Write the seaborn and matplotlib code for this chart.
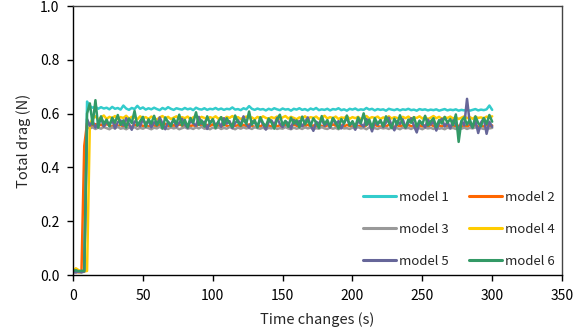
import numpy as np
import pandas as pd
import matplotlib
matplotlib.use("Agg")
import matplotlib.pyplot as plt
import seaborn as sns

# sampled every 2 s, t = 0 .. 300
model_1 = [0.010, 0.015, 0.012, 0.010, 0.014, 0.645, 0.628, 0.622, 0.626, 0.618,
 0.624, 0.619, 0.622, 0.616, 0.625, 0.618, 0.621, 0.615, 0.630, 0.619,
 0.614, 0.621, 0.617, 0.629, 0.618, 0.623, 0.615, 0.620, 0.616, 0.622,
 0.617, 0.613, 0.621, 0.616, 0.624, 0.618, 0.614, 0.620, 0.617, 0.615,
 0.621, 0.616, 0.619, 0.613, 0.622, 0.617, 0.615, 0.620, 0.614, 0.618,
 0.616, 0.621, 0.615, 0.619, 0.614, 0.618, 0.616, 0.623, 0.615, 0.617,
 0.613, 0.620, 0.616, 0.628, 0.618, 0.614, 0.619, 0.615, 0.617, 0.612,
 0.618, 0.614, 0.620, 0.616, 0.613, 0.619, 0.615, 0.617, 0.611, 0.618,
 0.615, 0.620, 0.614, 0.617, 0.612, 0.619, 0.615, 0.621, 0.613, 0.616,
 0.614, 0.618, 0.612, 0.617, 0.615, 0.620, 0.613, 0.616, 0.611, 0.618,
 0.615, 0.619, 0.613, 0.616, 0.614, 0.621, 0.615, 0.618, 0.612, 0.617,
 0.614, 0.616, 0.611, 0.618, 0.615, 0.613, 0.617, 0.612, 0.616, 0.614,
 0.618, 0.613, 0.615, 0.611, 0.617, 0.614, 0.616, 0.612, 0.615, 0.613,
 0.616, 0.611, 0.614, 0.617, 0.612, 0.615, 0.613, 0.616, 0.611, 0.614,
 0.612, 0.615, 0.611, 0.614, 0.617, 0.612, 0.615, 0.613, 0.616, 0.630, 0.614]

model_2 = [0.010, 0.012, 0.010, 0.011, 0.480, 0.565, 0.558, 0.552, 0.561, 0.555,
 0.559, 0.553, 0.562, 0.556, 0.551, 0.560, 0.554, 0.558, 0.552, 0.563,
 0.556, 0.550, 0.559, 0.555, 0.561, 0.553, 0.557, 0.551, 0.560, 0.556,
 0.552, 0.558, 0.554, 0.562, 0.555, 0.550, 0.557, 0.553, 0.560, 0.556,
 0.551, 0.559, 0.554, 0.557, 0.552, 0.561, 0.555, 0.550, 0.558, 0.554,
 0.560, 0.553, 0.556, 0.551, 0.559, 0.555, 0.552, 0.562, 0.554, 0.557,
 0.551, 0.558, 0.553, 0.560, 0.555, 0.550, 0.557, 0.552, 0.559, 0.554,
 0.556, 0.551, 0.561, 0.553, 0.557, 0.550, 0.558, 0.554, 0.552, 0.560,
 0.555, 0.551, 0.557, 0.553, 0.559, 0.552, 0.556, 0.550, 0.558, 0.554,
 0.551, 0.557, 0.553, 0.560, 0.555, 0.550, 0.556, 0.552, 0.558, 0.554,
 0.551, 0.559, 0.553, 0.556, 0.550, 0.557, 0.565, 0.552, 0.558, 0.554,
 0.551, 0.556, 0.552, 0.559, 0.554, 0.550, 0.557, 0.553, 0.556, 0.551,
 0.558, 0.553, 0.555, 0.550, 0.557, 0.552, 0.556, 0.551, 0.559, 0.554,
 0.550, 0.556, 0.552, 0.558, 0.553, 0.551, 0.557, 0.552, 0.555, 0.550,
 0.556, 0.552, 0.558, 0.553, 0.557, 0.551, 0.555, 0.552, 0.558, 0.554, 0.556]

model_3 = [0.012, 0.010, 0.013, 0.011, 0.012, 0.550, 0.545, 0.549, 0.543, 0.548,
 0.544, 0.550, 0.546, 0.542, 0.549, 0.545, 0.551, 0.544, 0.547, 0.542,
 0.548, 0.545, 0.550, 0.543, 0.547, 0.544, 0.549, 0.546, 0.542, 0.548,
 0.545, 0.551, 0.544, 0.547, 0.543, 0.549, 0.545, 0.548, 0.542, 0.546,
 0.550, 0.544, 0.547, 0.543, 0.549, 0.545, 0.551, 0.544, 0.546, 0.542,
 0.548, 0.545, 0.549, 0.543, 0.547, 0.544, 0.550, 0.546, 0.542, 0.548,
 0.544, 0.549, 0.545, 0.547, 0.543, 0.550, 0.546, 0.544, 0.548, 0.542,
 0.547, 0.545, 0.549, 0.543, 0.546, 0.544, 0.550, 0.545, 0.542, 0.548,
 0.544, 0.547, 0.543, 0.549, 0.545, 0.548, 0.542, 0.546, 0.544, 0.550,
 0.545, 0.543, 0.548, 0.544, 0.547, 0.542, 0.549, 0.545, 0.546, 0.543,
 0.548, 0.544, 0.550, 0.545, 0.547, 0.542, 0.549, 0.544, 0.546, 0.543,
 0.548, 0.545, 0.547, 0.543, 0.549, 0.544, 0.546, 0.542, 0.548, 0.545,
 0.547, 0.543, 0.549, 0.544, 0.546, 0.542, 0.548, 0.545, 0.547, 0.543,
 0.549, 0.544, 0.546, 0.542, 0.548, 0.545, 0.547, 0.543, 0.546, 0.544,
 0.548, 0.543, 0.547, 0.545, 0.549, 0.544, 0.546, 0.543, 0.548, 0.545, 0.547]

model_4 = [0.015, 0.025, 0.018, 0.012, 0.014, 0.015, 0.560, 0.582, 0.590, 0.578,
 0.586, 0.593, 0.580, 0.588, 0.583, 0.591, 0.579, 0.587, 0.584, 0.592,
 0.581, 0.588, 0.585, 0.579, 0.590, 0.583, 0.587, 0.580, 0.589, 0.584,
 0.578, 0.586, 0.591, 0.582, 0.588, 0.580, 0.585, 0.590, 0.581, 0.587,
 0.583, 0.589, 0.579, 0.586, 0.592, 0.582, 0.588, 0.584, 0.580, 0.587,
 0.583, 0.590, 0.581, 0.586, 0.579, 0.588, 0.584, 0.591, 0.582, 0.587,
 0.580, 0.585, 0.589, 0.583, 0.586, 0.579, 0.588, 0.582, 0.590, 0.584,
 0.581, 0.587, 0.583, 0.589, 0.580, 0.586, 0.591, 0.582, 0.588, 0.584,
 0.579, 0.586, 0.583, 0.590, 0.581, 0.587, 0.584, 0.589, 0.580, 0.585,
 0.592, 0.582, 0.587, 0.583, 0.589, 0.580, 0.586, 0.584, 0.590, 0.581,
 0.587, 0.583, 0.588, 0.579, 0.585, 0.591, 0.582, 0.587, 0.584, 0.589,
 0.580, 0.586, 0.583, 0.590, 0.582, 0.587, 0.584, 0.579, 0.588, 0.583,
 0.589, 0.581, 0.586, 0.584, 0.590, 0.582, 0.587, 0.580, 0.585, 0.591,
 0.583, 0.588, 0.581, 0.586, 0.584, 0.589, 0.582, 0.587, 0.580, 0.585,
 0.590, 0.583, 0.587, 0.581, 0.588, 0.584, 0.586, 0.582, 0.589, 0.585, 0.590]

model_5 = [0.012, 0.010, 0.014, 0.011, 0.013, 0.580, 0.555, 0.572, 0.548, 0.566,
 0.585, 0.552, 0.570, 0.560, 0.578, 0.545, 0.568, 0.575, 0.556, 0.583,
 0.562, 0.540, 0.571, 0.566, 0.553, 0.580, 0.561, 0.574, 0.549, 0.568,
 0.557, 0.586, 0.563, 0.542, 0.570, 0.559, 0.577, 0.552, 0.566, 0.581,
 0.560, 0.547, 0.573, 0.564, 0.555, 0.588, 0.562, 0.570, 0.543, 0.567,
 0.578, 0.556, 0.569, 0.551, 0.583, 0.563, 0.572, 0.546, 0.565, 0.576,
 0.558, 0.590, 0.561, 0.548, 0.572, 0.566, 0.554, 0.579, 0.560, 0.541,
 0.569, 0.575, 0.557, 0.584, 0.562, 0.550, 0.571, 0.565, 0.544, 0.577,
 0.560, 0.573, 0.553, 0.568, 0.586, 0.558, 0.536, 0.570, 0.563, 0.579,
 0.555, 0.567, 0.548, 0.581, 0.561, 0.572, 0.545, 0.566, 0.584, 0.557,
 0.569, 0.540, 0.574, 0.562, 0.552, 0.580, 0.564, 0.534, 0.571, 0.558,
 0.576, 0.550, 0.567, 0.585, 0.556, 0.538, 0.573, 0.561, 0.579, 0.547,
 0.566, 0.583, 0.555, 0.530, 0.570, 0.562, 0.549, 0.578, 0.559, 0.572,
 0.537, 0.566, 0.581, 0.552, 0.569, 0.545, 0.575, 0.560, 0.540, 0.571,
 0.556, 0.655, 0.563, 0.548, 0.576, 0.528, 0.567, 0.582, 0.525, 0.570, 0.551]

model_6 = [0.015, 0.018, 0.014, 0.016, 0.015, 0.600, 0.638, 0.560, 0.650, 0.548,
 0.590, 0.562, 0.578, 0.552, 0.585, 0.566, 0.595, 0.558, 0.575, 0.548,
 0.582, 0.565, 0.610, 0.555, 0.572, 0.588, 0.551, 0.579, 0.563, 0.592,
 0.557, 0.574, 0.545, 0.586, 0.568, 0.553, 0.581, 0.562, 0.596, 0.556,
 0.577, 0.549, 0.584, 0.566, 0.605, 0.558, 0.575, 0.552, 0.590, 0.563,
 0.579, 0.546, 0.571, 0.587, 0.557, 0.583, 0.564, 0.550, 0.593, 0.568,
 0.555, 0.580, 0.562, 0.608, 0.559, 0.576, 0.548, 0.587, 0.565, 0.553,
 0.582, 0.567, 0.544, 0.578, 0.596, 0.558, 0.573, 0.551, 0.585, 0.563,
 0.575, 0.549, 0.589, 0.560, 0.577, 0.554, 0.583, 0.566, 0.547, 0.591,
 0.561, 0.576, 0.552, 0.584, 0.568, 0.545, 0.580, 0.563, 0.593, 0.556,
 0.572, 0.550, 0.586, 0.565, 0.601, 0.557, 0.578, 0.548, 0.583, 0.562,
 0.575, 0.553, 0.590, 0.567, 0.546, 0.581, 0.559, 0.594, 0.563, 0.549,
 0.578, 0.566, 0.587, 0.552, 0.574, 0.560, 0.592, 0.556, 0.571, 0.583,
 0.550, 0.576, 0.563, 0.588, 0.566, 0.580, 0.557, 0.597, 0.495, 0.573,
 0.586, 0.559, 0.578, 0.548, 0.590, 0.565, 0.553, 0.584, 0.562, 0.595, 0.570]

labels = ["model 1", "model 2", "model 3", "model 4", "model 5", "model 6"]
series = [model_1, model_2, model_3, model_4, model_5, model_6]
colors = ["#33CCCC", "#FF6600", "#999999", "#FFCC00", "#666699", "#339966"]
time_step = 2

frames = []
for lab, vals in zip(labels, series):
    t = np.arange(len(vals)) * time_step
    frames.append(pd.DataFrame({"time": t, "drag": vals, "model": lab}))
df = pd.concat(frames, ignore_index=True)

sns.set_theme(style="ticks")
plt.rcParams["font.family"] = ["Noto Sans CJK JP", "DejaVu Sans"]

fig = plt.figure(figsize=(5.8, 3.35), dpi=100)
ax = fig.add_axes([0.126, 0.179, 0.843, 0.803])

sns.lineplot(data=df, x="time", y="drag", hue="model", hue_order=labels,
             palette=dict(zip(labels, colors)), linewidth=1.8,
             errorbar=None, ax=ax, legend=True)

ax.set_xlim(0, 350)
ax.set_ylim(0, 1.0)
ax.set_xticks(np.arange(0, 351, 50))
ax.set_yticks(np.arange(0, 1.01, 0.2))
ax.set_yticklabels([f"{v:.1f}" for v in np.arange(0, 1.01, 0.2)])
ax.tick_params(axis="both", labelsize=10, direction="out", length=4,
               width=1, colors="black", pad=6)
for s in ax.spines.values():
    s.set_visible(True)
    s.set_color("black")
    s.set_linewidth(1.0)
ax.spines["top"].set_color("#444444")
ax.spines["right"].set_color("#444444")

ax.set_xlabel("Time changes (s)", fontsize=10.5, labelpad=7)
ax.set_ylabel("Total drag (N)", fontsize=10.5, labelpad=6)

handles, hl = ax.get_legend_handles_labels()
hmap = dict(zip(hl, handles))
order = ["model 1", "model 3", "model 5", "model 2", "model 4", "model 6"]
leg = ax.legend([hmap[o] for o in order], order, ncol=2, loc="lower right",
                bbox_to_anchor=(1.0, 0.0), frameon=False, fontsize=9.5,
                labelspacing=1.45, handlelength=2.5, handletextpad=0.2,
                columnspacing=1.6, borderaxespad=0.15)
for line in leg.get_lines():
    line.set_linewidth(2.2)

fig.savefig("out.png", dpi=100)
